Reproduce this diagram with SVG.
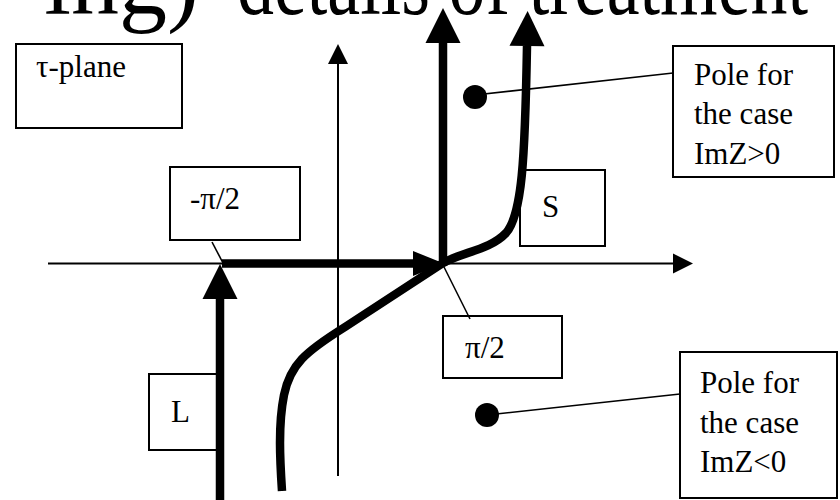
<svg xmlns="http://www.w3.org/2000/svg" width="840" height="500" viewBox="0 0 840 500">
<style>
.box{fill:#fff;stroke:#000;stroke-width:2}
.lbl{font-family:'Liberation Serif','Times New Roman','DejaVu Serif',serif;font-size:31px;fill:#000}
.title{font-family:'Liberation Serif','Times New Roman','DejaVu Serif',serif;font-size:96px;fill:#000}
.thin{fill:none;stroke:#000;stroke-width:2}
.lead{fill:none;stroke:#000;stroke-width:1.6}
.thick{fill:none;stroke:#000;stroke-width:8.5}
</style>
<defs>
<marker id="ah" markerUnits="userSpaceOnUse" markerWidth="36" markerHeight="36" refX="0" refY="17.5" orient="auto" overflow="visible"><path d="M0,0 L35,17.5 L0,35 z" fill="#000"/></marker>
<marker id="ahm" markerUnits="userSpaceOnUse" markerWidth="32" markerHeight="26" refX="0" refY="12.5" orient="auto" overflow="visible"><path d="M0,0 L31,12.5 L0,25 z" fill="#000"/></marker>
<marker id="at" markerUnits="userSpaceOnUse" markerWidth="21" markerHeight="21" refX="0" refY="10" orient="auto" overflow="visible"><path d="M0,0 L20,10 L0,20 z" fill="#000"/></marker>
</defs>
<rect width="840" height="500" fill="#fff"/>
<g id="title">
<text class="title" x="199" y="14" text-anchor="end">ing)</text>
<text class="title" x="237" y="14" textLength="571" lengthAdjust="spacingAndGlyphs">details of treatment</text>
</g>
<g id="tau-plane"><rect class="box" x="16" y="44" width="166" height="84"/><text class="lbl" x="36" y="77">τ-plane</text></g>
<g id="minus-pi2"><rect class="box" x="170" y="167" width="130" height="73"/><text class="lbl" x="190" y="209">-π/2</text></g>
<g id="S"><rect class="box" x="520" y="170" width="85" height="76"/><text class="lbl" x="542" y="217">S</text></g>
<g id="pi2"><rect class="box" x="443" y="316" width="119" height="62"/><text class="lbl" x="465" y="358">π/2</text></g>
<g id="L"><rect class="box" x="149" y="374" width="68" height="76"/><text class="lbl" x="171" y="422">L</text></g>
<g id="pole-upper-box"><rect class="box" x="673" y="46" width="161" height="131"/><text class="lbl"><tspan x="694" y="85">Pole for</tspan><tspan x="694" y="124">the case</tspan><tspan x="694" y="164">ImZ&gt;0</tspan></text></g>
<g id="pole-lower-box"><rect class="box" x="680" y="352" width="157" height="146"/><text class="lbl"><tspan x="700" y="393">Pole for</tspan><tspan x="700" y="433">the case</tspan><tspan x="700" y="472">ImZ&lt;0</tspan></text></g>
<g id="pole-upper"><circle cx="475" cy="97" r="12" fill="#000"/></g>
<g id="pole-lower"><circle cx="487" cy="415" r="12" fill="#000"/></g>
<g id="connectors">
<path class="thin" d="M48,263.5 L673,263.5" marker-end="url(#at)"/>
<path class="thin" d="M338,476 L338,64" marker-end="url(#at)"/>
<path class="lead" d="M212,242 L223,263"/>
<path class="lead" d="M470,319 L443,265"/>
<path class="lead" d="M475,95 L673,73"/>
<path class="lead" d="M487,415 L680,394"/>
<path class="thick" d="M222,263.5 L413,263.5" marker-end="url(#ahm)"/>
<path class="thick" d="M443,266 L443,43" marker-end="url(#ah)"/>
<path class="thick" d="M220,500 L220,299" marker-end="url(#ah)"/>
<path class="thick" d="M282,491 C280,460 278,425 284,395 C290,365 305,352 345,327 L443,263 C462,252 490,250 506,233 C522,215 525,160 527,46" marker-end="url(#ah)"/>
</g>
</svg>
